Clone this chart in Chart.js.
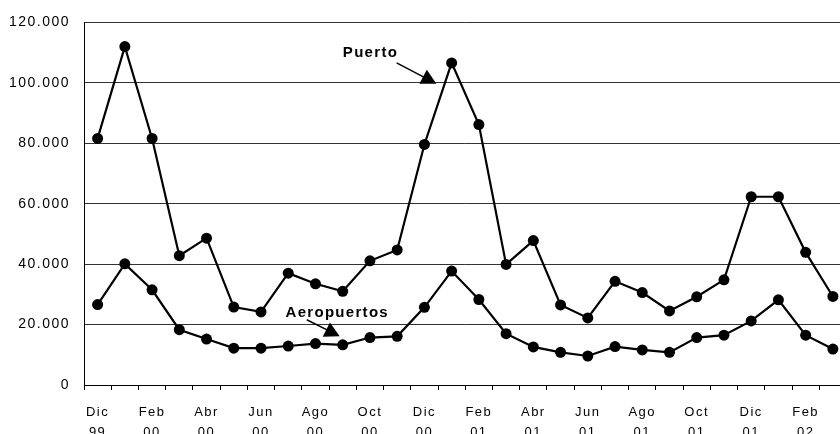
<!DOCTYPE html>
<html>
<head>
<meta charset="utf-8">
<script src="https://cdn.jsdelivr.net/npm/chart.js@4"></script>
<style>
html, body { margin: 0; padding: 0; overflow: hidden; background: #fff; }
#wrap { width: 852px; height: 434px; }
</style>
</head>
<body>
<div id="wrap"><canvas id="grafico" width="852" height="434"></canvas></div>
<script>
// Meses (dic 99 - mar 02)
const meses = ['Dic','Ene','Feb','Mar','Abr','May','Jun','Jul','Ago','Sep','Oct','Nov',
               'Dic','Ene','Feb','Mar','Abr','May','Jun','Jul','Ago','Sep','Oct','Nov',
               'Dic','Ene','Feb','Mar'];
const anios = ['99','00','00','00','00','00','00','00','00','00','00','00',
               '00','01','01','01','01','01','01','01','01','01','01','01',
               '01','02','02','02'];

const puerto = [81600,112000,81600,42800,48600,25800,24200,37000,33500,31000,41100,44700,
                79600,106600,86200,39900,47800,26500,22200,34300,30600,24500,29200,34800,
                62300,62300,43900,29300];
const aeropuertos = [26600,40100,31500,18300,15200,12200,12200,12900,13700,13300,15700,16100,
                     25700,37700,28300,17000,12600,10800,9600,12700,11600,10800,15700,16500,
                     21200,28200,16500,11900];

const ticksY = [0,20000,40000,60000,80000,100000,120000];

// etiquetas con flecha (posicion en unidades del grafico: indice de mes, valor)
const etiquetas = [
    { texto: 'Puerto', en: [10.02, 109800], desde: [10.98, 106600], hasta: [12.44, 99700] },
    { texto: 'Aeropuertos', en: [8.8, 24000], desde: [7.68, 21600], hasta: [8.89, 16100] }
];

const formato = (v) => v === 0 ? '0' : String(v).replace(/\B(?=(\d{3})+(?!\d))/g, '.');
const fuente = "'Liberation Sans', Arial, sans-serif";

const espaciado = {
    id: 'espaciado',
    beforeDraw(chart) { chart.ctx.letterSpacing = '1.5px'; }
};

const flechas = {
    id: 'flechas',
    afterDatasetsDraw(chart) {
        const ctx = chart.ctx;
        const x = chart.scales.x, y = chart.scales.y;
        const px = (p) => [x.getPixelForValue(p[0]), y.getPixelForValue(p[1])];
        ctx.save();
        ctx.letterSpacing = '1.3px';
        ctx.font = 'bold 15px ' + fuente;
        ctx.fillStyle = '#000';
        ctx.strokeStyle = '#000';
        ctx.textAlign = 'center';
        ctx.textBaseline = 'middle';
        etiquetas.forEach((e) => {
            const [tx, ty] = px(e.en);
            ctx.fillText(e.texto, tx, ty);
            const [x1, y1] = px(e.desde);
            const [x2, y2] = px(e.hasta);
            const ang = Math.atan2(y2 - y1, x2 - x1);
            ctx.lineWidth = 1.5;
            ctx.beginPath();
            ctx.moveTo(x1, y1);
            ctx.lineTo(x2 - 12 * Math.cos(ang), y2 - 12 * Math.sin(ang));
            ctx.stroke();
            ctx.beginPath();
            ctx.moveTo(x2, y2);
            ctx.lineTo(x2 - 15 * Math.cos(ang) + 8 * Math.sin(ang), y2 - 15 * Math.sin(ang) - 8 * Math.cos(ang));
            ctx.lineTo(x2 - 15 * Math.cos(ang) - 8 * Math.sin(ang), y2 - 15 * Math.sin(ang) + 8 * Math.cos(ang));
            ctx.closePath();
            ctx.fill();
        });
        ctx.restore();
    }
};

const serie = (datos) => ({
    data: datos,
    borderColor: '#000',
    borderWidth: 2.2,
    pointRadius: 5.5,
    pointBackgroundColor: '#000',
    pointBorderWidth: 0,
    tension: 0
});

new Chart(document.getElementById('grafico'), {
    type: 'line',
    data: {
        labels: meses.map((m, i) => m + ' ' + anios[i]),
        datasets: [serie(puerto), serie(aeropuertos)]
    },
    options: {
        responsive: false,
        animation: false,
        layout: { padding: { top: 15, right: 2, left: 0, bottom: 0 } },
        plugins: { legend: { display: false }, tooltip: { enabled: false } },
        scales: {
            x: {
                offset: true,
                grid: { offset: true, drawOnChartArea: false, tickLength: 5, color: '#000' },
                border: { color: '#000', width: 1 },
                ticks: {
                    autoSkip: false, maxRotation: 0, padding: 12, color: '#000',
                    font: { family: fuente, size: 13, lineHeight: 1.55 },
                    callback: (v, i) => i % 2 === 0 ? [meses[i], anios[i]] : ''
                },
                afterFit(s) { s.height = 49; }
            },
            y: {
                min: 0, max: 120000,
                afterBuildTicks(s) { s.ticks = ticksY.map((v) => ({ value: v })); },
                grid: { color: '#333', drawTicks: false },
                border: { color: '#000', width: 1 },
                ticks: {
                    padding: 14, color: '#000',
                    font: { family: fuente, size: 14 },
                    callback: (v) => formato(v)
                },
                afterFit(s) { s.width = 84; }
            }
        }
    },
    plugins: [espaciado, flechas]
});
</script>
</body>
</html>
